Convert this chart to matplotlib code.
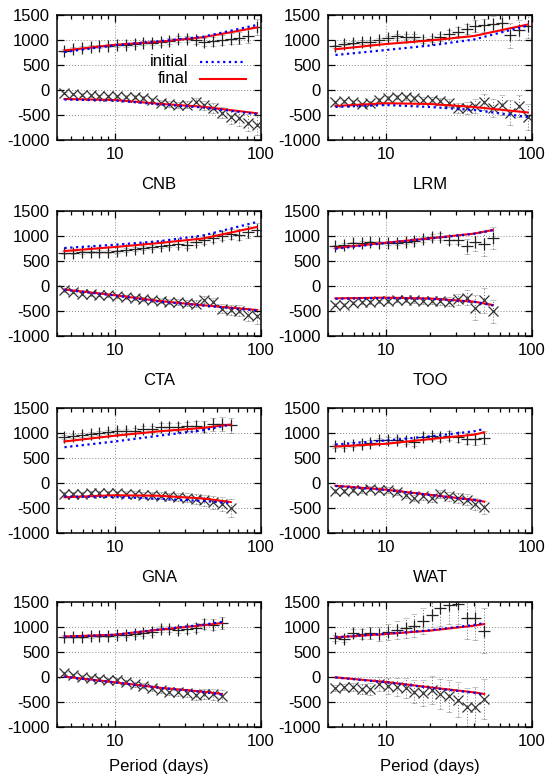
import matplotlib
matplotlib.use('Agg')
import matplotlib.pyplot as plt
from matplotlib.ticker import FixedLocator, LogLocator, NullFormatter, FixedFormatter

plt.rcParams['font.family'] = ['Liberation Sans', 'DejaVu Sans']

# ---------------- data ----------------
periods = [4.5, 5.17, 5.93, 6.81, 7.81, 8.97, 10.3, 11.8, 13.6, 15.6, 17.9, 20.5,
           23.6, 27.1, 31.1, 35.7, 40.9, 47.0, 54.0, 61.9, 71.1, 81.6, 93.7]

panels = ['CNB', 'LRM', 'CTA', 'TOO', 'GNA', 'WAT', 'S7', 'S8']
xlabels = ['CNB', 'LRM', 'CTA', 'TOO', 'GNA', 'WAT', 'Period (days)', 'Period (days)']

plus_vals = {
    'CNB': [790, 830, 850, 865, 880, 885, 895, 905, 920, 935, 950, 960, 985, 1025, 1025, 1000, 960, 980, 1000, 1025, 1050, 1090, 1270],
    'LRM': [880, 930, 945, 960, 960, 1010, 1035, 1080, 1065, 1065, 995, 1015, 1060, 1115, 1165, 1230, 1280, 1300, 1325, 1345, 1100, 1195, 1285],
    'CTA': [670, 670, 675, 680, 685, 690, 700, 720, 745, 765, 785, 810, 830, 845, 830, 880, 920, 970, 1010, 1040, 1030, 1090, 1130],
    'TOO': [800, 830, 855, 870, 875, 870, 860, 865, 880, 910, 935, 975, 990, 925, 925, 800, 880, 850, 955],
    'GNA': [920, 945, 965, 980, 1000, 1015, 1035, 1035, 1045, 1070, 1080, 1120, 1120, 1120, 1135, 1135, 1125, 1170, 1180, 1150],
    'WAT': [745, 730, 765, 785, 800, 850, 865, 850, 830, 810, 920, 930, 920, 945, 920, 880, 880, 900],
    'S7':  [810, 810, 810, 815, 830, 830, 845, 835, 860, 880, 900, 960, 960, 945, 965, 990, 1060, 1050, 1080],
    'S8':  [775, 770, 875, 870, 890, 855, 905, 935, 975, 1025, 1120, 1235, 1380, 1450, 1460, 1185, 1185, 925],
}
plus_err = {
    'CNB': [25, 25, 25, 30, 30, 30, 35, 35, 40, 40, 45, 50, 55, 60, 65, 70, 80, 90, 100, 110, 120, 140, 160],
    'LRM': [30, 30, 30, 35, 35, 40, 40, 45, 50, 50, 60, 60, 70, 80, 90, 100, 120, 130, 150, 170, 250, 200, 250],
    'CTA': [25, 25, 25, 25, 30, 30, 30, 35, 35, 40, 40, 45, 50, 55, 60, 65, 70, 80, 90, 100, 110, 120, 130],
    'TOO': [30, 30, 30, 30, 35, 35, 40, 40, 45, 50, 55, 60, 70, 80, 90, 150, 180, 250, 220],
    'GNA': [40, 40, 40, 40, 45, 45, 50, 50, 55, 60, 65, 70, 75, 80, 90, 100, 110, 130, 140, 150],
    'WAT': [40, 40, 45, 45, 50, 50, 55, 60, 60, 65, 70, 75, 80, 90, 100, 110, 120, 130],
    'S7':  [30, 30, 30, 30, 35, 35, 40, 40, 45, 50, 55, 60, 65, 70, 80, 90, 100, 110, 120],
    'S8':  [60, 60, 80, 100, 120, 140, 160, 180, 200, 230, 260, 300, 350, 380, 400, 420, 450, 450],
}
cross_vals = {
    'CNB': [-55, -75, -90, -105, -120, -120, -125, -130, -135, -165, -205, -250, -275, -290, -290, -235, -300, -355, -450, -540, -565, -650, -690],
    'LRM': [-240, -220, -235, -285, -255, -205, -165, -140, -140, -165, -200, -205, -220, -265, -365, -365, -320, -235, -365, -300, -455, -320, -540],
    'CTA': [-85, -120, -150, -165, -175, -185, -200, -215, -235, -255, -280, -290, -315, -320, -335, -350, -270, -310, -450, -485, -490, -570, -600],
    'TOO': [-375, -370, -335, -325, -315, -305, -295, -285, -275, -280, -300, -305, -305, -310, -265, -235, -430, -285, -500],
    'GNA': [-230, -215, -215, -210, -205, -205, -205, -215, -225, -235, -250, -255, -270, -285, -300, -320, -350, -390, -420, -500],
    'WAT': [-170, -170, -135, -150, -120, -135, -140, -190, -235, -305, -270, -305, -215, -270, -300, -340, -420, -485],
    'S7':  [75, 40, 10, -10, -40, -60, -65, -90, -145, -175, -225, -260, -290, -305, -325, -360, -330, -345, -375],
    'S8':  [-215, -205, -195, -235, -235, -140, -175, -205, -215, -295, -325, -255, -330, -375, -455, -590, -590, -435],
}
cross_err = {
    'CNB': [25, 25, 25, 30, 30, 30, 35, 35, 40, 40, 45, 50, 55, 60, 70, 80, 90, 100, 110, 130, 150, 170, 200],
    'LRM': [30, 30, 30, 35, 35, 40, 40, 45, 50, 50, 60, 60, 70, 80, 100, 120, 140, 160, 180, 200, 250, 220, 260],
    'CTA': [25, 25, 25, 25, 30, 30, 30, 35, 35, 40, 40, 45, 50, 55, 60, 65, 70, 80, 90, 100, 110, 130, 150],
    'TOO': [30, 30, 30, 30, 35, 35, 40, 40, 45, 50, 55, 60, 70, 90, 110, 150, 250, 250, 230],
    'GNA': [40, 40, 40, 40, 45, 45, 50, 50, 55, 60, 65, 70, 75, 80, 90, 100, 110, 130, 140, 170],
    'WAT': [40, 40, 45, 45, 50, 50, 55, 60, 60, 65, 70, 75, 80, 90, 100, 110, 120, 130],
    'S7':  [30, 30, 30, 30, 35, 35, 40, 40, 45, 50, 55, 60, 65, 70, 80, 90, 100, 110, 120],
    'S8':  [60, 60, 80, 100, 120, 140, 160, 180, 200, 230, 260, 280, 300, 320, 350, 380, 400, 400],
}

curve_periods = {
    'CNB': [4.5, 10, 20, 40, 93.7],
    'LRM': [4.5, 10, 20, 40, 93.7],
    'CTA': [4.5, 10, 20, 40, 93.7],
    'TOO': [4.5, 10, 20, 40, 54.0],
    'GNA': [4.5, 10, 20, 40, 61.9],
    'WAT': [4.5, 10, 20, 40, 47.0],
    'S7':  [4.5, 10, 20, 40, 54.0],
    'S8':  [4.5, 10, 20, 40, 47.0],
}
init_top = {
    'CNB': [760, 895, 975, 1065, 1300], 'LRM': [700, 800, 890, 1010, 1290],
    'CTA': [760, 825, 895, 1010, 1280], 'TOO': [745, 860, 950, 1045, 1115],
    'GNA': [716, 831, 946, 1054, 1169], 'WAT': [770, 851, 932, 1034, 1081],
    'S7':  [805, 845, 950, 1045, 1100], 'S8':  [795, 865, 935, 1040, 1080],
}
final_top = {
    'CNB': [790, 905, 965, 1055, 1250], 'LRM': [815, 920, 990, 1080, 1310],
    'CTA': [700, 780, 860, 950, 1180], 'TOO': [760, 867, 953, 1047, 1120],
    'GNA': [831, 946, 1034, 1101, 1169], 'WAT': [730, 784, 878, 966, 1013],
    'S7':  [810, 846, 946, 1034, 1080], 'S8':  [793, 860, 927, 1027, 1060],
}
init_bot = {
    'CNB': [-190, -210, -285, -350, -480], 'LRM': [-340, -300, -340, -400, -540],
    'CTA': [-75, -190, -310, -390, -490], 'TOO': [-255, -240, -255, -315, -390],
    'GNA': [-270, -280, -315, -360, -400], 'WAT': [-60, -140, -240, -340, -375],
    'S7':  [5, -110, -215, -300, -350], 'S8':  [-10, -105, -215, -315, -355],
}
final_bot = {
    'CNB': [-180, -200, -275, -335, -465], 'LRM': [-320, -265, -280, -340, -450],
    'CTA': [-70, -185, -300, -385, -480], 'TOO': [-247, -233, -250, -313, -380],
    'GNA': [-285, -245, -255, -310, -380], 'WAT': [-54, -135, -236, -338, -372],
    'S7':  [8, -105, -213, -293, -340], 'S8':  [-7, -100, -207, -307, -340],
}

yticks = [-1000, -500, 0, 500, 1000, 1500]
xticks = [10, 100]

# ---------------- layout ----------------
W, H = 558, 777
fig = plt.figure(figsize=(W / 100, H / 100), dpi=100)

col_left = [57, 328]
row_top = [15, 211, 408, 602]
ax_w, ax_h = 204, 125

FS = 12
err_color = '#666666'

for i, name in enumerate(panels):
    r, c = divmod(i, 2)
    left = col_left[c] / W
    bottom = (H - row_top[r] - ax_h) / H
    ax = fig.add_axes([left, bottom, ax_w / W, ax_h / H])

    n1 = len(plus_vals[name])
    n2 = len(cross_vals[name])
    p1 = periods[:n1]
    p2 = periods[:n2]

    # error bars (dotted)
    for pp, vv, ee in ((p1, plus_vals[name], plus_err[name]),
                       (p2, cross_vals[name], cross_err[name])):
        eb = ax.errorbar(pp, vv, yerr=ee, fmt='none', ecolor=err_color,
                         elinewidth=0.7, capsize=2.2, capthick=0.6, zorder=2)
        for lc in eb[2]:
            lc.set_linestyle((0, (1, 2)))
        for cap in eb[1]:
            cap.set_alpha(0.45)

    ax.plot(p1, plus_vals[name], linestyle='none', marker='+', markersize=8.5,
            markeredgewidth=0.9, color='#222222', zorder=3)
    ax.plot(p2, cross_vals[name], linestyle='none', marker='x', markersize=6.5,
            markeredgewidth=0.9, color='#333333', zorder=3)

    cp = curve_periods[name]
    ax.plot(cp, final_top[name], color='#ff0000', lw=1.5, zorder=4)
    ax.plot(cp, final_bot[name], color='#ff0000', lw=1.5, zorder=4)
    ax.plot(cp, init_top[name], color='#0000ff', lw=1.6, linestyle=(0, (1, 1.6)), zorder=5)
    ax.plot(cp, init_bot[name], color='#0000ff', lw=1.6, linestyle=(0, (1, 1.6)), zorder=5)

    ax.set_xscale('log')
    ax.set_xlim(4, 100)
    ax.set_ylim(-1000, 1500)
    ax.xaxis.set_major_locator(FixedLocator(xticks))
    ax.xaxis.set_major_formatter(FixedFormatter([str(t) for t in xticks]))
    ax.xaxis.set_minor_locator(LogLocator(base=10, subs=range(2, 10)))
    ax.xaxis.set_minor_formatter(NullFormatter())
    ax.set_yticks(yticks)
    ax.set_yticklabels([str(t) for t in yticks])

    ax.grid(True, which='major', color='#888888', linestyle=(0, (1, 2)), lw=0.7)
    ax.tick_params(which='both', direction='in', top=True, right=True,
                   labelsize=FS, width=0.9)
    ax.tick_params(which='major', length=5, pad=5)
    ax.tick_params(which='minor', length=2.8)
    for s in ax.spines.values():
        s.set_linewidth(1.1)

    ax.set_xlabel(xlabels[i], fontsize=FS, labelpad=11 if r < 3 else 7)

    if i == 0:
        ax.text(0.645, 0.625, 'initial', transform=ax.transAxes, ha='right',
                va='center', fontsize=FS)
        ax.plot([0.70, 0.925], [0.625, 0.625], transform=ax.transAxes,
                color='#0000ff', lw=1.6, linestyle=(0, (1, 1.6)))
        ax.text(0.645, 0.49, 'final', transform=ax.transAxes, ha='right',
                va='center', fontsize=FS)
        ax.plot([0.70, 0.925], [0.49, 0.49], transform=ax.transAxes,
                color='#ff0000', lw=1.5)

fig.savefig('out.png', dpi=100)
